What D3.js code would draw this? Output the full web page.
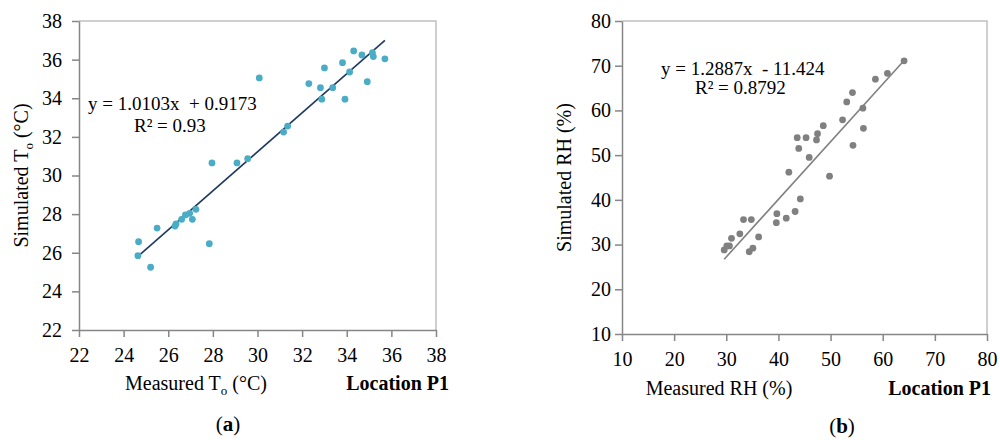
<!DOCTYPE html>
<meta charset="utf-8">
<style>
body { margin: 0; background: #fff; }
svg text { font-family: "Liberation Serif", "Times New Roman", serif; fill: #000; }
.axis path, .axis line { stroke: #868686; }
.frame { fill: none; stroke: #c0c0c0; stroke-width: 1.5; }
</style>
<svg width="1000" height="440"></svg>
<script src="https://cdn.jsdelivr.net/npm/d3@7"></script>
<script>

// (a) temperature, location P1
var tMeasured = [24.64, 24.67, 25.21, 25.50, 26.30, 26.35, 26.60, 26.77, 26.96, 27.08, 27.24, 27.84,
  27.96, 29.08, 29.56, 30.08, 31.17, 31.35, 32.30, 32.82, 32.88, 33.00, 33.37, 33.81, 33.92,
  34.13, 34.31, 34.68, 34.92, 35.15, 35.19, 35.71];
var tSimulated = [25.85, 26.57, 25.25, 27.28, 27.38, 27.49, 27.73, 27.96, 28.04, 27.73, 28.25, 26.47,
  30.65, 30.65, 30.87, 35.05, 32.25, 32.56, 34.76, 34.55, 33.95, 35.57, 34.55, 35.84, 33.95,
  35.36, 36.45, 36.24, 34.86, 36.36, 36.16, 36.04];
var tTicks = [22, 24, 26, 28, 30, 32, 34, 36, 38];

// (b) relative humidity, location P1
var rhMeasured = [29.6, 30.1, 30.6, 31.0, 32.6, 33.3, 34.8, 34.4, 35.1, 36.2, 39.7, 39.6, 41.5,
  42.0, 43.2, 43.6, 43.9, 44.2, 45.3, 45.9, 47.5, 47.3, 48.6, 49.8, 52.3, 53.1, 54.2, 54.3,
  56.2, 56.3, 58.6, 60.9, 64.1];
var rhSimulated = [28.8, 29.7, 29.7, 31.4, 32.4, 35.6, 35.6, 28.4, 29.2, 31.7, 36.9, 34.9, 35.9,
  46.2, 37.4, 53.9, 51.5, 40.2, 53.9, 49.5, 54.8, 53.4, 56.6, 45.3, 57.9, 61.9, 64.0, 52.2,
  60.5, 56.0, 67.0, 68.3, 71.1];
var rhTicks = [10, 20, 30, 40, 50, 60, 70, 80];

var panels = [
  { x: tMeasured, y: tSimulated, ticks: tTicks, slope: 1.0103, icpt: 0.9173,
    eq: "y = 1.0103x \u00a0+ 0.9173", r2: "R\u00b2 = 0.93",
    left: 79, right: 436, top: 21, bottom: 330, ypad: 10,
    dot: "#4bacc6", line: "#1f3a60",
    eqX: 88, eqY: 110, r2X: 134, r2Y: 132,
    xlab: ["Measured T", "o", " (\u00b0C)"], ylab: ["Simulated T", "o", " (\u00b0C)"],
    xlabX: 196, labY: 390, ylabX: 28, locX: 449, tag: "a", tagX: 228, tagY: 431 },
  { x: rhMeasured, y: rhSimulated, ticks: rhTicks, slope: 1.2887, icpt: -11.424,
    eq: "y = 1.2887x \u00a0- 11.424", r2: "R\u00b2 = 0.8792",
    left: 622, right: 987, top: 21, bottom: 334, ypad: 4,
    dot: "#808080", line: "#808080",
    eqX: 661, eqY: 75, r2X: 695, r2Y: 94,
    xlab: ["Measured RH (%)"], ylab: ["Simulated RH (%)"],
    xlabX: 719, labY: 395, ylabX: 571, locX: 991, tag: "b", tagX: 842, tagY: 433 }
];

var svg = d3.select("svg");

panels.forEach(function(p) {
  var lo = p.ticks[0], hi = p.ticks[p.ticks.length - 1];
  var x = d3.scaleLinear().domain([lo, hi]).range([p.left, p.right]);
  var y = d3.scaleLinear().domain([lo, hi]).range([p.bottom, p.top]);
  var g = svg.append("g");

  // top / right frame
  g.append("path").attr("class", "frame")
    .attr("d", "M" + p.left + "," + p.top + "H" + p.right + "V" + p.bottom);

  var xa = g.append("g").attr("class", "axis")
    .attr("transform", "translate(0," + p.bottom + ")")
    .call(d3.axisBottom(x).tickValues(p.ticks).tickSize(7).tickSizeOuter(0).tickPadding(11));

  var ya = g.append("g").attr("class", "axis")
    .attr("transform", "translate(" + p.left + ",0)")
    .call(d3.axisLeft(y).tickValues(p.ticks).tickSize(7).tickSizeOuter(0).tickPadding(p.ypad));

  [xa, ya].forEach(function(a) {
    a.attr("font-family", null).attr("font-size", null);
    a.selectAll("path,line").attr("stroke-width", 1.5);
    a.selectAll("text")
      .style("font-family", "'Liberation Serif', serif")
      .style("font-size", "20px")
      .attr("fill", "#000");
  });

  // trend line over the measured range
  var x0 = d3.min(p.x), x1 = d3.max(p.x);
  g.append("line")
    .attr("x1", x(x0)).attr("y1", y(p.slope * x0 + p.icpt))
    .attr("x2", x(x1)).attr("y2", y(p.slope * x1 + p.icpt))
    .attr("stroke", p.line).attr("stroke-width", 1.6);

  g.selectAll(".dot").data(p.x).enter().append("circle")
    .attr("cx", function(d) { return x(d); })
    .attr("cy", function(d, i) { return y(p.y[i]); })
    .attr("r", 3.4)
    .attr("fill", p.dot);

  g.append("text").attr("x", p.eqX).attr("y", p.eqY).style("font-size", "19px").text(p.eq);
  g.append("text").attr("x", p.r2X).attr("y", p.r2Y).style("font-size", "19px").text(p.r2);

  // axis titles, with optional subscript
  var xt = g.append("text").attr("x", p.xlabX).attr("y", p.labY)
    .attr("text-anchor", "middle").style("font-size", "20px");
  addLabel(xt, p.xlab);

  var yt = g.append("text")
    .attr("transform", "translate(" + p.ylabX + "," + ((p.top + p.bottom) / 2) + ") rotate(-90)")
    .attr("text-anchor", "middle").style("font-size", "20px");
  addLabel(yt, p.ylab);

  g.append("text").attr("x", p.locX).attr("y", p.labY).attr("text-anchor", "end")
    .style("font-size", "20px").style("font-weight", "bold").text("Location P1");

  var tg = g.append("text").attr("x", p.tagX).attr("y", p.tagY).attr("text-anchor", "middle")
    .style("font-size", "21px");
  tg.append("tspan").text("(");
  tg.append("tspan").style("font-weight", "bold").text(p.tag);
  tg.append("tspan").text(")");
});

function addLabel(t, parts) {
  t.append("tspan").text(parts[0]);
  if (parts.length > 1) {
    t.append("tspan").attr("dy", 5).style("font-size", "13px").text(parts[1]);
    t.append("tspan").attr("dy", -5).text(parts[2]);
  }
}

</script>
